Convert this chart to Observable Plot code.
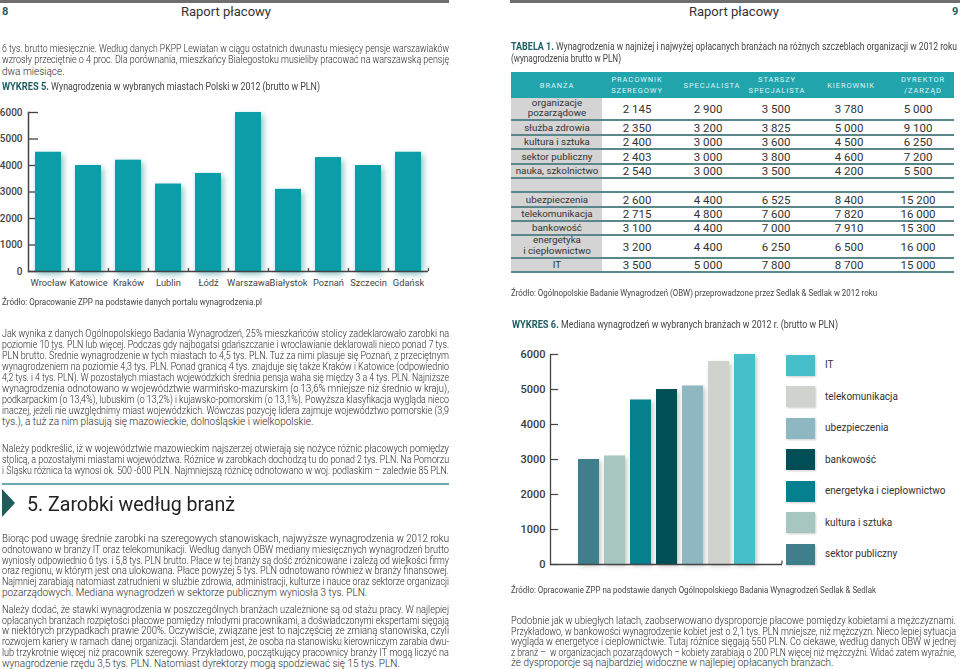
<!DOCTYPE html>
<html><head><meta charset="utf-8">
<script src="https://cdn.jsdelivr.net/npm/d3@7"></script>
<script src="https://cdn.jsdelivr.net/npm/@observablehq/plot@0.6"></script>
<style>
html,body{margin:0;padding:0;background:#fff;}
#page{position:relative;width:960px;height:669px;overflow:hidden;font-family:Roboto,"Noto Sans",sans-serif;color:#454545;}
#page div{position:absolute;}
.ln{white-space:nowrap;height:14px;line-height:14px;}
.ln>span{display:inline-block;white-space:pre;transform-origin:0 50%;}
.body{font-weight:300;color:#2a2a2a;}
.tb{font-weight:700;color:#1d5c63;font-size:11px;}
#c1 g[aria-label="bar"]{filter:drop-shadow(2px 3px 3px rgba(0,120,130,.5));}
#c2 g[aria-label="bar"]{filter:drop-shadow(2px 2px 2px rgba(0,0,0,.22));}
</style></head>
<body><div id="page"></div>
<script>
// ---------------- DATA ----------------
const cities = ["Wrocław","Katowice","Kraków","Lublin","Łódź","Warszawa","Białystok","Poznań","Szczecin","Gdańsk"];
const citySalary = [4500,4000,4200,3300,3700,6000,3100,4300,4000,4500];
const cityTicks = [0,1000,2000,3000,4000,5000,6000];

const industries = ["sektor publiczny","kultura i sztuka","energetyka i ciepłownictwo","bankowość","ubezpieczenia","telekomunikacja","IT"];
const industryMedian = [3000,3100,4700,5000,5100,5800,6000];
const industryTicks = [0,1000,2000,3000,4000,5000,6000];

const tableHeader = [["BRANŻA"],["PRACOWNIK","SZEREGOWY"],["SPECJALISTA"],["STARSZY","SPECJALISTA"],["KIEROWNIK"],["DYREKTOR","/ZARZĄD"]];
const lowRows = [["organizacje","pozarządowe"],["służba zdrowia"],["kultura i sztuka"],["sektor publiczny"],["nauka, szkolnictwo"]];
const lowValues = [[2145,2900,3500,3780,5000],[2350,3200,3825,5000,9100],[2400,3000,3600,4500,6250],[2403,3000,3800,4600,7200],[2540,3000,3500,4200,5500]];
const highRows = [["ubezpieczenia"],["telekomunikacja"],["bankowość"],["energetyka","i ciepłownictwo"],["IT"]];
const highValues = [[2600,4400,6525,8400,15200],[2715,4800,7600,7820,16000],[3100,4400,7000,7910,15300],[3200,4400,6250,6500,16000],[3500,5000,7800,8700,15000]];

const para1 = ["6 tys. brutto miesięcznie. Według danych PKPP Lewiatan w ciągu ostatnich dwunastu miesięcy pensje warszawiaków",
"wzrosły przeciętnie o 4 proc. Dla porównania, mieszkańcy Białegostoku musieliby pracować na warszawską pensję",
"dwa miesiące."];
const para2 = ["Jak wynika z danych Ogólnopolskiego Badania Wynagrodzeń, 25% mieszkańców stolicy zadeklarowało zarobki na",
"poziomie 10 tys. PLN lub więcej. Podczas gdy najbogatsi gdańszczanie i wrocławianie deklarowali nieco ponad 7 tys.",
"PLN brutto. Średnie wynagrodzenie w tych miastach to 4,5 tys. PLN. Tuż za nimi plasuje się Poznań, z przeciętnym",
"wynagrodzeniem na poziomie 4,3 tys. PLN. Ponad granicą 4 tys. znajduje się także Kraków i Katowice (odpowiednio",
"4,2 tys. i 4 tys. PLN). W pozostałych miastach wojewódzkich średnia pensja waha się między 3 a 4 tys. PLN. Najniższe",
"wynagrodzenia odnotowano w województwie warmińsko-mazurskim (o 13,6% mniejsze niż średnio w kraju),",
"podkarpackim (o 13,4%), lubuskim (o 13,2%) i kujawsko-pomorskim (o 13,1%). Powyższa klasyfikacja wygląda nieco",
"inaczej, jeżeli nie uwzględnimy miast wojewódzkich. Wówczas pozycję lidera zajmuje województwo pomorskie (3,9",
"tys.), a tuż za nim plasują się mazowieckie, dolnośląskie i wielkopolskie."];
const para3 = ["Należy podkreślić, iż w województwie mazowieckim najszerzej otwierają się nożyce różnic płacowych pomiędzy",
"stolicą, a pozostałymi miastami województwa. Różnice w zarobkach dochodzą tu do ponad 2 tys. PLN. Na Pomorzu",
"i Śląsku różnica ta wynosi ok. 500 -600 PLN. Najmniejszą różnicę odnotowano w woj. podlaskim – zaledwie 85 PLN."];
const para4 = ["Biorąc pod uwagę średnie zarobki na szeregowych stanowiskach, najwyższe wynagrodzenia w 2012 roku",
"odnotowano w branży IT oraz telekomunikacji. Według danych OBW mediany miesięcznych wynagrodzeń brutto",
"wyniosły odpowiednio 6 tys. i 5,8 tys. PLN brutto. Płace w tej branży są dość zróżnicowane i zależą od wielkości firmy",
"oraz regionu, w którym jest ona ulokowana. Płace powyżej 5 tys. PLN odnotowano również w branży finansowej.",
"Najmniej zarabiają natomiast zatrudnieni w służbie zdrowia, administracji, kulturze i nauce oraz sektorze organizacji",
"pozarządowych. Mediana wynagrodzeń w sektorze publicznym wyniosła 3 tys. PLN."];
const para5 = ["Należy dodać, że stawki wynagrodzenia w poszczególnych branżach uzależnione są od stażu pracy. W najlepiej",
"opłacanych branżach rozpiętości płacowe pomiędzy młodymi pracownikami, a doświadczonymi ekspertami sięgają",
"w niektórych przypadkach prawie 200%. Oczywiście, związane jest to najczęściej ze zmianą stanowiska, czyli",
"rozwojem kariery w ramach danej organizacji. Standardem jest, że osoba na stanowisku kierowniczym zarabia dwu-",
"lub trzykrotnie więcej niż pracownik szeregowy. Przykładowo, początkujący pracownicy branży IT mogą liczyć na",
"wynagrodzenie rzędu 3,5 tys. PLN. Natomiast dyrektorzy mogą spodziewać się 15 tys. PLN."];
const para6 = ["Podobnie jak w ubiegłych latach, zaobserwowano dysproporcje płacowe pomiędzy kobietami a mężczyznami.",
"Przykładowo, w bankowości wynagrodzenie kobiet jest o 2,1 tys. PLN mniejsze, niż mężczyzn. Nieco lepiej sytuacja",
"wygląda w energetyce i ciepłownictwie. Tutaj różnice sięgają 550 PLN. Co ciekawe, według danych OBW w jednej",
"z branż –  w organizacjach pozarządowych – kobiety zarabiają o 200 PLN więcej niż mężczyźni. Widać zatem wyraźnie,",
"że dysproporcje są najbardziej widoczne w najlepiej opłacanych branżach."];

// ---------------- STYLE ----------------
const cityBarColor = "#0b9ea8";
const industryColors = ["#3f7f8b","#a6c6bf","#04808f","#004e56","#8db7c1","#cfd2cd","#46bfca"];
const axisColor = "#444";

// ---------------- LAYOUT HELPERS ----------------
const page = document.getElementById("page");
function box(style, html){const e=document.createElement("div");Object.assign(e.style,style);if(html!=null)e.innerHTML=html;page.appendChild(e);return e;}
function textLine(html,x,yc,w,mode,fs,color,weight){
  const d=box({left:x+"px",top:(yc-7)+"px",width:w+"px",fontSize:(fs||10)+"px"});
  d.className="ln"; if(color) d.style.color=color; if(weight) d.style.fontWeight=weight;
  const s=document.createElement("span"); s.innerHTML=html; d.appendChild(s);
  d.dataset.w=w; d.dataset.mode=mode||"f"; return d;
}
function para(lines,x,y0,step,w){lines.forEach((t,i)=>{const d=textLine(t,x,y0+i*step,w,i===lines.length-1?"f":"j");d.classList.add("body");});}
const fmt = n => String(n).replace(/\B(?=(\d{3})+(?!\d))/g," ");

// ---------------- PAGE FURNITURE ----------------
box({left:"0px",top:"0px",width:"449px",height:"3px",background:"#6e6e6e"});
box({left:"510px",top:"0px",width:"450px",height:"3px",background:"#6e6e6e"});
box({left:"2px",top:"5px",fontSize:"11px",fontWeight:"700",color:"#1d5c5c",lineHeight:"14px"},"8");
box({left:"952px",top:"5px",fontSize:"11px",fontWeight:"700",color:"#1d5c5c",lineHeight:"14px"},"9");
box({left:"226px",top:"4px",transform:"translateX(-50%)",fontSize:"13px",color:"#333",lineHeight:"16px",whiteSpace:"nowrap"},"Raport płacowy");
box({left:"734px",top:"4px",transform:"translateX(-50%)",fontSize:"13px",color:"#333",lineHeight:"16px",whiteSpace:"nowrap"},"Raport płacowy");

// ---------------- LEFT PAGE TEXT ----------------
para(para1,2,49,11.3,447);
textLine('<span class="tb">WYKRES 5.</span> Wynagrodzenia w wybranych miastach Polski w 2012 (brutto w PLN)',2,87,318,"e",10.5);
textLine("Źródło: Opracowanie ZPP na podstawie danych portalu wynagrodzenia.pl",2,302,260,"e",9.5);
para(para2,2,334,10.95,447);
para(para3,2,449,10.95,447);
box({left:"2px",top:"483px",width:"447px",height:"1.5px",background:"#6aa9ab"});
box({left:"2px",top:"489px",width:"13px",height:"28px",background:"#1e5e5a",clipPath:"polygon(0 0,100% 50%,0 100%)"});
const hd = textLine("5. Zarobki według branż",27,504,208,"e",21,"#222");
hd.style.height="26px"; hd.style.lineHeight="26px"; hd.style.top=(504-13)+"px";
para(para4,2,539,10.75,447);
para(para5,2,610,10.7,447);

// ---------------- RIGHT PAGE TEXT ----------------
textLine('<span class="tb">TABELA 1.</span> Wynagrodzenia w najniżej i najwyżej opłacanych branżach na różnych szczeblach organizacji w 2012 roku',511,47,446,"e",10.5);
textLine("(wynagrodzenia brutto w PLN)",511,59,110,"f",10.5);
textLine("Źródło: Ogólnopolskie Badanie Wynagrodzeń (OBW) przeprowadzone przez Sedlak &amp; Sedlak w 2012 roku",511,293,366,"e",9.5);
textLine('<span class="tb">WYKRES 6.</span> Mediana wynagrodzeń w wybranych branżach w 2012 r. (brutto w PLN)',512,325,326,"e",10.5);
textLine("Źródło: Opracowanie ZPP na podstawie danych Ogólnopolskiego Badania Wynagrodzeń Sedlak &amp; Sedlak",511,590,365,"e",9.5);
para(para6,511,621,10.6,445);

// ---------------- TABLE ----------------
const tX0=511, tX1=954, col1R=602;
const headCenters=[557,637,712,777,851,923];
const valCenters=[637,708,776,849,918];
const rowEdges=[98,120,135,149,164,178,192,207,221,235,258,272];
box({left:tX0+"px",top:"72px",width:(tX1-tX0)+"px",height:"26px",background:"#22a4ad"});
box({left:tX0+"px",top:"98px",width:(col1R-tX0)+"px",height:(272-98)+"px",background:"#d4d4d4"});
tableHeader.forEach((h,i)=>{
  h.forEach((t,k)=>{
    const yc = h.length===1?86:(k===0?80:91);
    box({left:headCenters[i]+"px",top:(yc-5)+"px",transform:"translateX(-50%)",fontSize:"7.5px",letterSpacing:"0.9px",color:"#dff3f3",lineHeight:"10px",whiteSpace:"nowrap"},t);
  });
});
const allRows=[...lowRows.map((r,i)=>({label:r,vals:lowValues[i]})),{label:[],vals:[]},...highRows.map((r,i)=>({label:r,vals:highValues[i]}))];
allRows.forEach((r,i)=>{
  const y0=rowEdges[i], y1=rowEdges[i+1], yc=(y0+y1)/2;
  r.label.forEach((t,k)=>{
    const ly = r.label.length===1?yc:yc-1+(k-0.5)*10.5;
    box({left:"557px",top:(ly-6)+"px",transform:"translateX(-50%)",fontSize:"9.8px",color:"#333",lineHeight:"12px",whiteSpace:"nowrap"},t);
  });
  r.vals.forEach((v,j)=>{
    box({left:valCenters[j]+"px",top:(yc-7)+"px",transform:"translateX(-50%)",fontSize:"11.5px",fontWeight:"400",color:"#333",lineHeight:"14px",whiteSpace:"nowrap"},fmt(v));
  });
});
rowEdges.slice(1).forEach(y=>box({left:tX0+"px",top:(y-1)+"px",width:(tX1-tX0)+"px",height:"2px",background:"#5b878b"}));

// ---------------- CHART 1 (WYKRES 5) ----------------
const cityData = cities.map((c,i)=>({city:c,value:citySalary[i]}));
const c1 = Plot.plot({
  width:440,height:195,marginLeft:28,marginRight:12,marginTop:12,marginBottom:24,
  style:{fontFamily:"Roboto, sans-serif",fontSize:"9px",color:axisColor,background:"none",overflow:"visible"},
  x:{domain:cities,paddingInner:0.35,paddingOuter:0.175,label:null},
  y:{domain:[0,6000],label:null},
  marks:[
    Plot.ruleY(cityTicks,{y:d=>d,insetRight:390,stroke:axisColor,strokeWidth:1.3}),
    Plot.barY(cityData,{x:"city",y:"value",fill:cityBarColor}),
    Plot.ruleY([0],{stroke:axisColor,strokeWidth:1.5}),
    Plot.frame({anchor:"left",stroke:axisColor,strokeWidth:1.5}),
    Plot.ruleX(cities,{x:d=>d,dx:20,y1:()=>0,y2:()=>110,stroke:axisColor,strokeWidth:1.3}),
    Plot.axisX({tickSize:0,tickPadding:8,fontSize:9.3,fill:"#444"}),
    Plot.axisY({ticks:cityTicks,tickSize:0,tickPadding:6,tickFormat:"d",fontSize:10,fontWeight:500,fill:"#444"})
  ]
});
const w1 = box({left:"0px",top:"100px"}); w1.id="c1"; w1.appendChild(c1);

// ---------------- CHART 2 (WYKRES 6) ----------------
const indData = industries.map((n,i)=>({name:n,value:industryMedian[i]}));
const c2 = Plot.plot({
  width:460,height:240,marginLeft:50,marginRight:178,marginTop:14,marginBottom:16,
  style:{fontFamily:"Roboto, sans-serif",fontSize:"11px",color:axisColor,background:"none",overflow:"visible"},
  x:{domain:industries,paddingInner:0.2,paddingOuter:1.0,axis:null},
  y:{domain:[0,6000],label:null},
  color:{domain:industries,range:industryColors},
  marks:[
    Plot.ruleY(industryTicks,{y:d=>d,insetRight:224,stroke:axisColor,strokeWidth:1.2}),
    Plot.barY(indData,{x:"name",y:"value",fill:"name"}),
    Plot.ruleY([0],{stroke:axisColor,strokeWidth:1.3}),
    Plot.frame({anchor:"left",stroke:axisColor,strokeWidth:1.3}),
    Plot.ruleX([industries[industries.length-1]],{x:d=>d,dx:37,y1:()=>0,y2:()=>100,stroke:axisColor,strokeWidth:1.2}),
    Plot.axisY({ticks:industryTicks,tickSize:0,tickPadding:5,tickFormat:"d",fontSize:11,fontWeight:500,fill:"#3a3a3a"})
  ]
});
const w2 = box({left:"500px",top:"340px"}); w2.id="c2"; w2.appendChild(c2);

// legend (top to bottom: reverse order of bars)
industries.slice().reverse().forEach((n,k)=>{
  const i = industries.indexOf(n);
  const yc = 365 + k*31.5;
  box({left:"786px",top:(yc-10.5)+"px",width:"29px",height:"21px",background:industryColors[i],boxShadow:"1px 1px 2px rgba(0,0,0,.2)"});
  box({left:"825px",top:(yc-7)+"px",fontSize:"10px",color:"#333",lineHeight:"14px",whiteSpace:"nowrap"},n);
});

// ---------------- FIT TEXT LINES ----------------
document.querySelectorAll(".ln").forEach(d=>{
  const s=d.firstChild, W=+d.dataset.w, m=d.dataset.mode;
  const nat=s.getBoundingClientRect().width;
  if(m==="e"){ s.style.transform=`scaleX(${W/nat})`; }
  else if(nat>W){ s.style.transform=`scaleX(${W/nat})`; }
  else if(m==="j"){ const n=(s.textContent.match(/ /g)||[]).length; if(n) s.style.wordSpacing=((W-nat)/n)+"px"; }
});
</script>
</body></html>
